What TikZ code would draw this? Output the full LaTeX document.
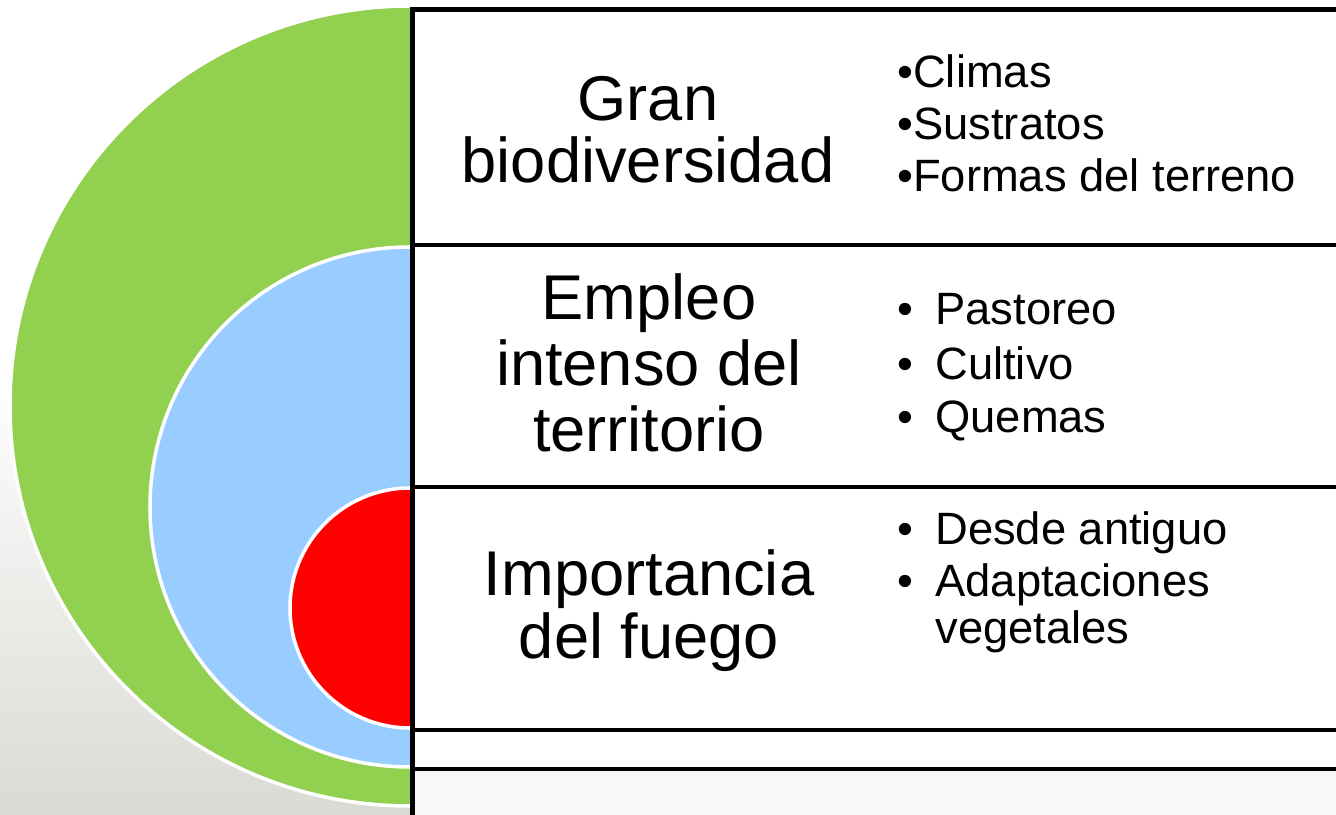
\documentclass[tikz,border=0pt]{standalone}
\usepackage{fontspec}
\setmainfont{Liberation Sans}
\definecolor{grn}{RGB}{146,208,80}
\definecolor{blu}{RGB}{153,204,255}
\definecolor{rd}{RGB}{255,0,0}
\definecolor{bggrey}{RGB}{218,218,213}
\definecolor{offwhite}{RGB}{248,248,246}
\begin{document}
\begin{tikzpicture}[x=0.02cm,y=0.02cm,
  disc/.style={draw=white, line width=2pt},
  rowbox/.style={draw=black, line width=2.8pt, fill=white},
  big/.style={font=\fontsize{36}{40}\selectfont, anchor=base, inner sep=0pt},
  item/.style={font=\fontsize{25.8}{30}\selectfont, anchor=base west, inner sep=0pt}]
\useasboundingbox (0,0) rectangle (1336,815);
\fill[white] (0,0) rectangle (1336,815);
\shade[top color=white, bottom color=bggrey] (0,0) rectangle (412,448);
% half discs
\begin{scope}
\clip (0,0) rectangle (411,815);
\filldraw[disc, fill=grn] (410,409) circle (400);
\filldraw[disc, fill=blu] (410,308) circle (260);
\filldraw[disc, fill=rd] (410,207) circle (120);
\end{scope}
% rows
\draw[rowbox] (412.5,805.5) rectangle (1350,570);
\draw[rowbox] (412.5,570) rectangle (1350,328);
\draw[rowbox] (412.5,328) rectangle (1350,85);
\draw[rowbox] (412.5,85) rectangle (1350,46);
\draw[rowbox, fill=offwhite] (412.5,46) rectangle (1350,-10);
% left labels
\node[big] (t1a) at (648,694) {Gran};
\node[big] (t1b) at (648,632) {biodiversidad};
\node[big] (t2a) at (649,495) {Empleo};
\node[big] (t2b) at (649,429) {intenso del};
\node[big] (t2c) at (649,363) {territorio};
\node[big] (t3a) at (649,219) {Importancia};
\node[big] (t3b) at (649,156) {del fuego};
% right lists
\node[item] (c1) at (897,727) {•Climas};
\node[item] (c2) at (897,675) {•Sustratos};
\node[item] (c3) at (897,623) {•Formas del terreno};
\node[item] (b1) at (897,490) {•};
\node[item] (p1) at (935,490) {Pastoreo};
\node[item] (b2) at (897,435) {•};
\node[item] (p2) at (935,435) {Cultivo};
\node[item] (b3) at (897,382) {•};
\node[item] (p3) at (935,382) {Quemas};
\node[item] (b4) at (897,270) {•};
\node[item] (f1) at (935,270) {Desde antiguo};
\node[item] (b5) at (897,218) {•};
\node[item] (f2) at (935,218) {Adaptaciones};
\node[item] (f3) at (935,171) {vegetales};
\end{tikzpicture}
\end{document}
